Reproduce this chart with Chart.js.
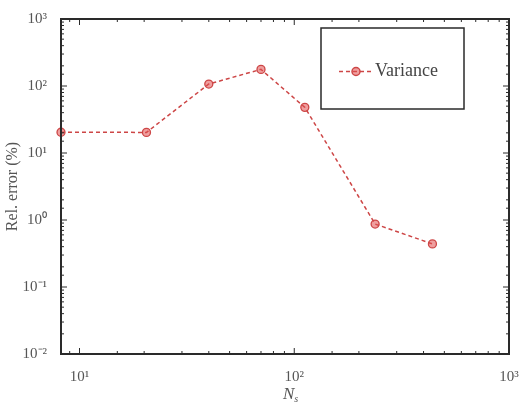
<!DOCTYPE html>
<html>
<head>
<meta charset="utf-8">
<script src="https://cdn.jsdelivr.net/npm/chart.js@4.4.1/dist/chart.umd.min.js"></script>
<style>
  html, body { margin: 0; padding: 0; background: #fff; }
</style>
</head>
<body>
<canvas id="errChart" width="521" height="406"></canvas>
<script>
// values
const nValues = [8.2, 20.5, 40, 70, 112, 238, 440];
const varianceErr = [20.4, 20.3, 107, 177, 48, 0.87, 0.44];
const xRange = [8.2, 1000];
const yRange = [0.01, 1000];
const seriesName = 'Variance';
const yTitle = 'Rel. error (%)';

const SERIF = "'Liberation Serif', 'Times New Roman', serif";
const lineColor = 'rgb(205, 70, 70)';
const markerFill = 'rgba(225, 80, 80, 0.55)';
const axisColor = '#2a2a2a';

const supers = { '0': '⁰', '1': '¹', '2': '²', '3': '³', '-': '⁻' };
function powLabel(v) {
  const p = Math.log10(v);
  if (Math.abs(p - Math.round(p)) > 1e-6) return '';
  return '10' + String(Math.round(p)).split('').map(c => supers[c]).join('');
}
function isMajor(v) {
  const p = Math.log10(v);
  return Math.abs(p - Math.round(p)) < 1e-6;
}

// frame, inward ticks on all four sides, legend box and x title
const framePlugin = {
  id: 'frame',
  afterDraw(chart) {
    const { ctx, chartArea: a, scales } = chart;
    ctx.save();
    ctx.strokeStyle = axisColor;
    ctx.lineWidth = 1;
    scales.x.ticks.forEach(t => {
      if (t.value < xRange[0] || t.value > xRange[1]) return;
      const px = scales.x.getPixelForValue(t.value);
      const len = isMajor(t.value) ? 6 : 3;
      ctx.beginPath();
      ctx.moveTo(px, a.bottom); ctx.lineTo(px, a.bottom - len);
      ctx.moveTo(px, a.top); ctx.lineTo(px, a.top + len);
      ctx.stroke();
    });
    scales.y.ticks.forEach(t => {
      if (t.value < yRange[0] || t.value > yRange[1]) return;
      const py = scales.y.getPixelForValue(t.value);
      const len = isMajor(t.value) ? 6 : 3;
      ctx.beginPath();
      ctx.moveTo(a.left, py); ctx.lineTo(a.left + len, py);
      ctx.moveTo(a.right, py); ctx.lineTo(a.right - len, py);
      ctx.stroke();
    });
    ctx.lineWidth = 2;
    ctx.strokeRect(a.left, a.top, a.right - a.left, a.bottom - a.top);

    // legend
    const lx = 321, ly = 28, lw = 143, lh = 81;
    ctx.fillStyle = '#fff';
    ctx.fillRect(lx, ly, lw, lh);
    ctx.lineWidth = 1.5;
    ctx.strokeRect(lx, ly, lw, lh);
    const cy = ly + lh / 2 + 3;
    ctx.strokeStyle = lineColor;
    ctx.lineWidth = 1.5;
    ctx.setLineDash([4, 3]);
    ctx.beginPath();
    ctx.moveTo(339, cy); ctx.lineTo(371, cy);
    ctx.stroke();
    ctx.setLineDash([]);
    ctx.beginPath();
    ctx.arc(356, cy, 4, 0, Math.PI * 2);
    ctx.fillStyle = markerFill;
    ctx.fill();
    ctx.stroke();
    ctx.fillStyle = '#444';
    ctx.font = '18px ' + SERIF;
    ctx.textBaseline = 'middle';
    ctx.textAlign = 'left';
    ctx.fillText(seriesName, 375, cy);

    // x title: italic N with subscript s
    const tx = (a.left + a.right) / 2 - 2;
    ctx.fillStyle = '#555';
    ctx.font = 'italic 17px ' + SERIF;
    ctx.textBaseline = 'alphabetic';
    ctx.fillText('N', tx, 399);
    const nw = ctx.measureText('N').width;
    ctx.font = 'italic 10px ' + SERIF;
    ctx.fillText('s', tx + nw, 402);
    ctx.restore();
  }
};

new Chart(document.getElementById('errChart'), {
  type: 'scatter',
  data: {
    datasets: [{
      label: seriesName,
      data: nValues.map((n, i) => ({ x: n, y: varianceErr[i] })),
      showLine: true,
      borderColor: lineColor,
      borderWidth: 1.5,
      borderDash: [4, 3],
      pointRadius: 4,
      pointBorderWidth: 1.3,
      pointBackgroundColor: markerFill,
      pointBorderColor: lineColor,
      clip: false
    }]
  },
  options: {
    responsive: false,
    animation: false,
    layout: { padding: { left: 0, right: 12, top: 19, bottom: 0 } },
    plugins: { legend: { display: false }, tooltip: { enabled: false } },
    scales: {
      x: {
        type: 'logarithmic',
        min: xRange[0],
        max: xRange[1],
        grid: { display: false },
        border: { display: false },
        ticks: {
          autoSkip: false,
          maxRotation: 0,
          padding: 6,
          color: '#555',
          font: { family: SERIF, size: 15 },
          callback: v => powLabel(v)
        },
        afterFit(s) {
          s.height = 52;
          s.paddingLeft = 0;
          s.paddingRight = 0;
        }
      },
      y: {
        type: 'logarithmic',
        min: yRange[0],
        max: yRange[1],
        grid: { display: false },
        border: { display: false },
        title: {
          display: true,
          text: yTitle,
          color: '#555',
          font: { family: SERIF, size: 16 },
          padding: { top: 3, bottom: 2 }
        },
        ticks: {
          autoSkip: false,
          padding: 6,
          color: '#555',
          font: { family: SERIF, size: 15 },
          callback: v => powLabel(v)
        },
        afterFit(s) {
          s.width = 61;
          s.paddingTop = 0;
          s.paddingBottom = 0;
        }
      }
    }
  },
  plugins: [framePlugin]
});
</script>
</body>
</html>
